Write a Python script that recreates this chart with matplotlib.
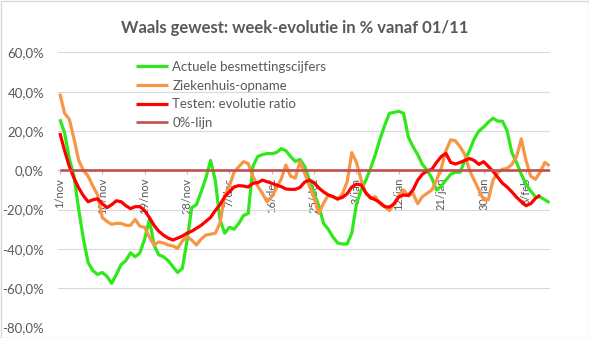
import matplotlib
matplotlib.use("Agg")
import matplotlib.pyplot as plt
from matplotlib.patches import Rectangle

# Daily categories: 1 Nov 2020 .. 13 Feb 2021 (category axis, one slot per day)
n_days = 105
days = list(range(n_days))

tick_positions = [0, 9, 18, 27, 36, 45, 54, 63, 72, 81, 90, 99]
tick_labels = ["1/nov", "10/nov", "19/nov", "28/nov", "7/dec", "16/dec",
               "25/dec", "3/jan", "12/jan", "21/jan", "30/jan", "8/feb"]

y_ticks = [-80, -60, -40, -20, 0, 20, 40, 60]
y_labels = ["-80,0%", "-60,0%", "-40,0%", "-20,0%", "0,0%", "20,0%", "40,0%", "60,0%"]

# Week-on-week evolution in %
besmettingen = [
    26, 19, 6, -3, -20, -35, -47, -51, -53, -52,
    -54, -57.5, -53, -48, -46, -42, -44, -42, -35, -25,
    -38, -43, -44, -46, -49, -52, -50, -36, -19, -17.5,
    -11, -4, 5, -5, -25, -32, -29, -30, -27, -23,
    -22, 2, 7, 8, 8.5, 8.5, 9, 11, 10, 7,
    4.5, 5.5, 2, -5, -12, -18, -27, -30, -34, -37,
    -37.5, -37.5, -32, -17, -10, -5, 1, 8, 16, 23,
    29, 29.5, 30, 29, 17, 12, 8, 3, 0, -4,
    -10, -8, -5, -2, -1, -1, 5, 10, 16, 20,
    22, 24.5, 26.5, 25, 25, 20, 9, 4, -2, -7,
    -10.5, -13.5, -13.6, -15, -16.5]

ziekenhuis = [
    39, 29, 26, 16, 5, 0, -3, -8, -12.5, -24,
    -26, -27.5, -27, -27, -28, -28, -25, -28.5, -29, -34,
    -38, -36.5, -37, -38, -38.5, -39.7, -36, -33.8, -35.5, -38,
    -35, -33, -32.5, -32, -27, -13, -8, -1, 1.8, 4.4,
    3.4, -3, -8, -11.7, -16, -13.4, -9, -4.5, 2.7, -3,
    -4, 4.4, -1.5, -8, -14, -22, -16.8, -12.6, -13.4, -15,
    -12, -6, 9, 4, -5, -11.7, -14.3, -13.4, -17, -18.5,
    -20.5, -17, -13, -10, -13, -11.7, -17, -13.4, -11.7, -10,
    -5, 1, 10, 15.5, 15, 12, 8, 0, -5, -10,
    -15, -15, -5, -1, 0.5, 1, 3, 7, 16, 5,
    -3, -4.6, -1, 4, 2.2]

testen = [
    19, 10, 2, -4, -9, -13, -16, -15, -14.5, -17,
    -19, -17.5, -15.5, -16, -18, -19.5, -18.5, -18.5, -20.5, -24,
    -28, -31, -33, -34.5, -35.5, -34.5, -33.5, -32, -31, -29.5,
    -28, -26, -24, -20.5, -17.5, -13.5, -11, -8.5, -7.8, -8,
    -8.5, -6.6, -6.3, -5, -5.8, -6.6, -7.5, -8.3, -9.5, -9.7,
    -9.7, -8.7, -6, -5, -6.3, -9, -11, -12.5, -13.4, -14.5,
    -13.8, -12, -8.5, -7, -7.5, -11.5, -14, -15, -16.5, -18.5,
    -18.7, -17, -13.5, -12.6, -12.8, -10, -5, -2, -0.3, 0.5,
    4, 7, 8.6, 4, 3.2, 4, 5, 6, 5, 3,
    4.4, 2, -0.5, -3.5, -6.6, -8.5, -11, -13.7, -16, -18,
    -17, -14.3, -12.6]

nul_lijn = [0] * n_days

series = [
    ("Actuele besmettingscijfers", besmettingen, "#2EE81A"),
    ("Ziekenhuis-opname", ziekenhuis, "#F79646"),
    ("Testen: evolutie ratio", testen, "#FF0000"),
    ("0%-lijn", nul_lijn, "#C0504D"),
]

text_color = "#595959"
grid_color = "#D9D9D9"
plt.rcParams["font.family"] = ["Lato", "DejaVu Sans"]

W, H = 589, 338
fig = plt.figure(figsize=(W / 100, H / 100), dpi=100)
ax = fig.add_axes([58 / W, 1 - 327.5 / H, 492 / W, (327.5 - 52.4) / H])

for label, values, color in series:
    lw = 1.9 if label == "0%-lijn" else 2.3
    ax.plot(days[:len(values)], values, color=color, lw=lw, label=label,
            solid_joinstyle="round", solid_capstyle="butt", zorder=3)

ax.set_xlim(-0.4, 104.1)
ax.set_ylim(-80, 60)

ax.set_yticks(y_ticks)
ax.set_yticklabels(y_labels)
ax.yaxis.grid(True, color=grid_color, lw=0.8)
ax.set_axisbelow(True)
ax.tick_params(axis="y", length=0, pad=10, labelsize=9.5, labelcolor=text_color)

ax.set_xticks(tick_positions)
ax.set_xticklabels(tick_labels)
ax.tick_params(axis="x", direction="out", length=3, width=0.8, color="#BFBFBF",
               pad=2.5, labelsize=8, labelcolor=text_color, labelrotation=90)
for t in ax.get_xticklabels():
    t.set_ha("center")
    t.set_va("top")

for side in ("left", "right", "top"):
    ax.spines[side].set_visible(False)
ax.spines["bottom"].set_position(("data", 0))
ax.spines["bottom"].set_color("#BFBFBF")
ax.spines["bottom"].set_zorder(1)

leg = ax.legend(loc="upper left", bbox_to_anchor=(136 / W, 1 - 61 / H),
                bbox_transform=fig.transFigure, frameon=False, fontsize=9.5,
                handlelength=2.45, handletextpad=0.3, labelspacing=0.5,
                borderpad=0, borderaxespad=0)
for t in leg.get_texts():
    t.set_color(text_color)

fig.text(0.5, 1 - 28 / H, "Waals gewest: week-evolutie in % vanaf 01/11",
         ha="center", va="center", fontsize=12, fontweight="bold", color=text_color)

fig.patches.append(Rectangle((0.5 / W, 0.5 / H), 1 - 1 / W, 1 - 1 / H,
                             transform=fig.transFigure, fill=False,
                             edgecolor=grid_color, lw=1))

fig.savefig("out.png", dpi=100)
